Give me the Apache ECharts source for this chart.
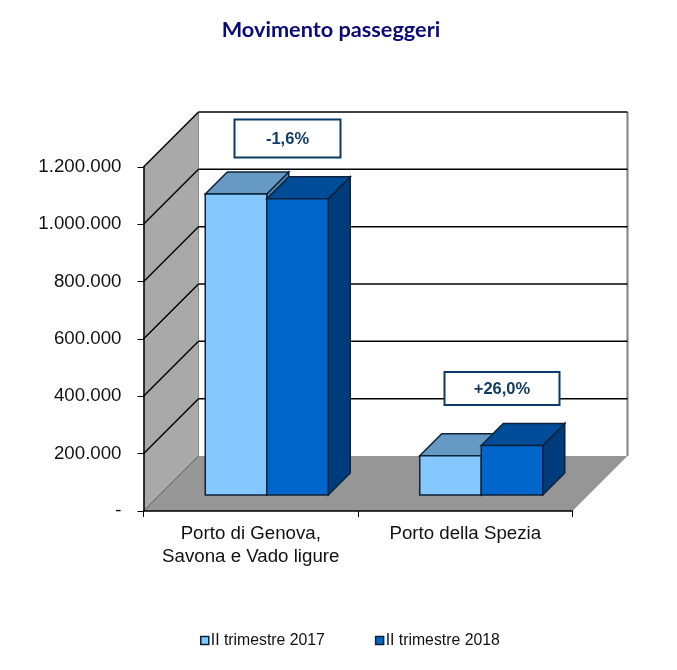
<!DOCTYPE html>
<html>
<head>
<meta charset="utf-8">
<style>html,body{margin:0;padding:0;background:#fff}#c{width:677px;height:670px}</style>
<script src="https://cdn.jsdelivr.net/npm/echarts@6/dist/echarts.min.js"></script>
</head>
<body>
<div id="c"></div>
<script>
var categories = ['Porto di Genova,\nSavona e Vado ligure', 'Porto della Spezia'];
var seriesNames = ['II trimestre 2017', 'II trimestre 2018'];
var values2017 = [1050000, 137000];
var values2018 = [1033000, 173000];
var yTicks = [0, 200000, 400000, 600000, 800000, 1000000, 1200000];
var changes = ['-1,6%', '+26,0%'];

var DEPTH = 55, BAR_DEPTH = 16, BAR_W = 61.5, BAR_D = 22;
var LINE = '#000000', EDGE = '#0c2238';

function fmt(v) { return v === 0 ? '-' : String(v).replace(/\B(?=(\d{3})+$)/g, '.'); }

function poly(points, fill, stroke, lw) {
  return { type: 'polygon', shape: { points: points },
    style: { fill: fill, stroke: stroke || null, lineWidth: lw || 0 } };
}
function line(x1, y1, x2, y2, color, lw) {
  return { type: 'line', shape: { x1: x1, y1: y1, x2: x2, y2: y2 },
    style: { stroke: color, lineWidth: lw } };
}

function renderWalls(params, api) {
  var cs = params.coordSys, l = cs.x, r = cs.x + cs.width, b = cs.y + cs.height, t = cs.y, d = DEPTH;
  return { type: 'group', children: [
    poly([[l + d, t - d], [r + d, t - d], [r + d, b - d], [l + d, b - d]], '#ffffff'),
    poly([[l, t], [l + d, t - d], [l + d, b - d], [l, b]], '#a9a9a9'),
    poly([[l, b], [l + d, b - d], [r + d, b - d], [r, b]], '#969696'),
    line(r + d, t - d, r + d, b - d, '#808080', 2),
    line(l + d, t - d, l + d, b - d, '#8a8a8a', 1)
  ]};
}
function renderGrid(params, api) {
  var cs = params.coordSys, l = cs.x, r = cs.x + cs.width, d = DEPTH;
  var y = api.coord([0, api.value(0)])[1];
  var col = api.value(0) === 0 ? '#555555' : LINE;
  var kids = [line(l, y, l + d, y - d, col, api.value(0) === 0 ? 1 : 1.5)];
  if (api.value(0) !== 0) kids.push(line(l + d, y - d, r + d, y - d, LINE, 1.5));
  return { type: 'group', children: kids };
}
function barRenderer(side, front, top, right) {
  return function (params, api) {
    var p = api.coord([api.value(0), api.value(1)]);
    var p0 = api.coord([api.value(0), 0]);
    var x0 = p[0] + BAR_DEPTH + (side < 0 ? -BAR_W : 0), x1 = x0 + BAR_W;
    var yt = p[1] - BAR_DEPTH, yb = p0[1] - BAR_DEPTH, d = BAR_D;
    return { type: 'group', children: [
      poly([[x1, yt], [x1 + d, yt - d], [x1 + d, yb - d], [x1, yb]], right, EDGE, 1.5),
      poly([[x0, yt], [x0 + d, yt - d], [x1 + d, yt - d], [x1, yt]], top, EDGE, 1.5),
      poly([[x0, yt], [x1, yt], [x1, yb], [x0, yb]], front, EDGE, 1.5)
    ]};
  };
}
function changeBox(x, y, w, h, text) {
  return { type: 'group', x: x, y: y, children: [
    { type: 'rect', z: 20, shape: { x: 0, y: 0, width: w, height: h },
      style: { fill: '#fff', stroke: '#0b3a66', lineWidth: 2 } },
    { type: 'text', z: 21, x: w / 2, y: h / 2 + 1,
      style: { text: text, fill: '#123a63', font: 'bold 16.5px "Liberation Sans"', align: 'center', verticalAlign: 'middle' } }
  ]};
}

var chart = echarts.init(document.getElementById('c'), null, { renderer: 'canvas' });
chart.setOption({
  animation: false,
  backgroundColor: '#ffffff',
  title: { text: 'Movimento passeggeri', left: 326, top: 14, textAlign: 'center',
    textStyle: { fontFamily: 'Lato', fontWeight: 'bold', fontSize: 21.7, color: '#0a0a78' } },
  grid: { left: 143.5, right: 104.5, top: 167, bottom: 159, containLabel: false },
  legend: {
    left: 200, top: 632.5, padding: 0, itemWidth: 8, itemHeight: 8, itemGap: 50, icon: 'rect',
    textStyle: { fontFamily: 'Liberation Sans', fontSize: 15.8, color: '#111', padding: [0, 0, 0, -3] },
    data: [
      { name: seriesNames[0], itemStyle: { color: '#85c8ff', borderColor: EDGE, borderWidth: 1.5 } },
      { name: seriesNames[1], itemStyle: { color: '#0066cc', borderColor: EDGE, borderWidth: 1.5 } }
    ]
  },
  xAxis: {
    type: 'category', data: categories, z: 10,
    axisLine: { lineStyle: { color: '#000', width: 1.5 } },
    axisTick: { show: true, length: 6, interval: 0, alignWithLabel: false, lineStyle: { color: '#000', width: 1 } },
    axisLabel: { interval: 0, hideOverlap: false, fontFamily: 'Liberation Sans', fontSize: 18.7, color: '#111', margin: 11, lineHeight: 23 },
    splitLine: { show: false }
  },
  yAxis: {
    type: 'value', min: 0, max: 1200000, interval: 200000, z: 10,
    axisLine: { show: true, lineStyle: { color: '#000', width: 1.5 } },
    axisTick: { show: true, length: 6, lineStyle: { color: '#000', width: 1 } },
    axisLabel: { fontFamily: 'Liberation Sans', fontSize: 18.7, color: '#111', margin: 22, padding: [4, 0, 0, 0], formatter: fmt },
    splitLine: { show: false }
  },
  graphic: [
    changeBox(234.5, 119.5, 106, 38, changes[0]),
    changeBox(444.5, 372, 115, 33, changes[1])
  ],
  series: [
    { type: 'custom', name: 'walls', silent: true, z: 1, clip: false, renderItem: renderWalls, data: [[0]] },
    { type: 'custom', name: 'grid', silent: true, z: 1, clip: false, renderItem: renderGrid, data: yTicks.map(function (v) { return [v]; }), encode: { y: 0 } },
    { type: 'custom', name: seriesNames[0], z: 3, clip: false, itemStyle: { color: '#85c8ff' },
      renderItem: barRenderer(-1, '#85c8ff', '#6699c4', '#5b8cb5'),
      data: values2017.map(function (v, i) { return [i, v]; }), encode: { x: 0, y: 1 } },
    { type: 'custom', name: seriesNames[1], z: 4, clip: false, itemStyle: { color: '#0066cc' },
      renderItem: barRenderer(1, '#0066cc', '#004c99', '#003c7c'),
      data: values2018.map(function (v, i) { return [i, v]; }), encode: { x: 0, y: 1 } }
  ]
});
</script>
</body>
</html>
